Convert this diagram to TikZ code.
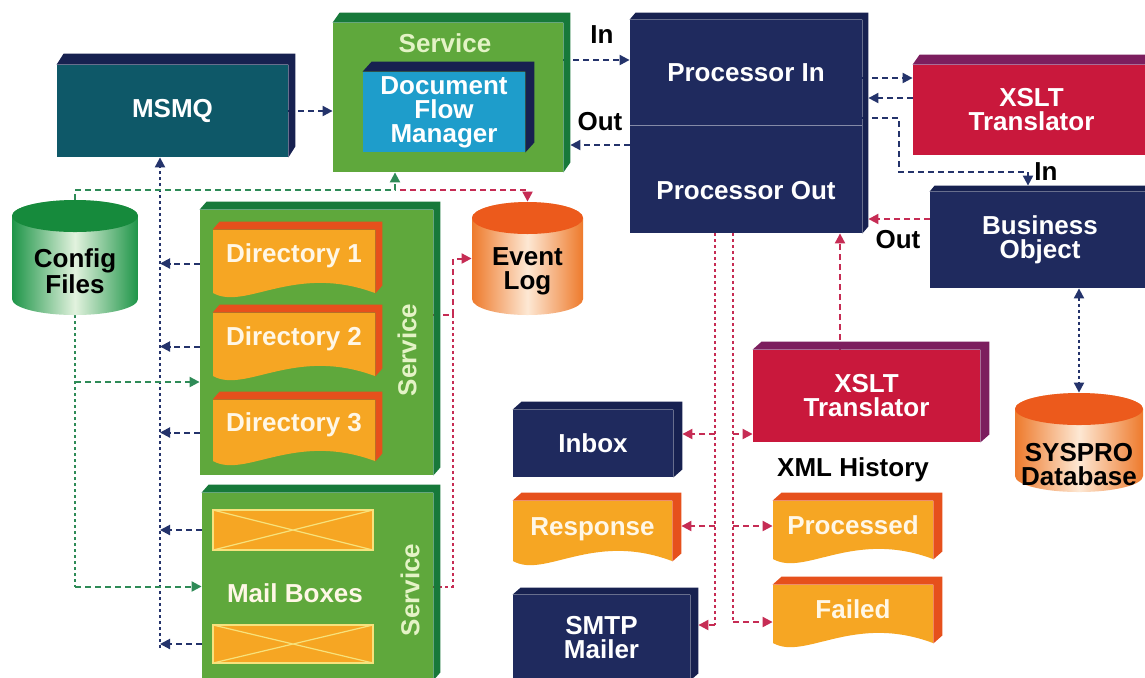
\documentclass[tikz,border=0pt]{standalone}
\usepackage{fontspec}
\setmainfont{Liberation Sans}
\usetikzlibrary{arrows.meta,calc,backgrounds}

\definecolor{navy}{HTML}{1F2A5E}
\definecolor{navyedge}{HTML}{172150}
\definecolor{mqteal}{HTML}{0E5868}
\definecolor{dfmblue}{HTML}{1E9DCB}
\definecolor{svcgreen}{HTML}{5FA83C}
\definecolor{svcdark}{HTML}{17793A}
\definecolor{docorange}{HTML}{F6A623}
\definecolor{docedge}{HTML}{E6501C}
\definecolor{xsltred}{HTML}{C9183C}
\definecolor{xsltedge}{HTML}{7C1E5E}
\definecolor{svctext}{HTML}{E4F3C6}
\definecolor{doctext}{HTML}{FFF7E6}
\definecolor{mbline}{HTML}{F7E27C}
\definecolor{linknavy}{HTML}{24336B}
\definecolor{linkred}{HTML}{C62C54}
\definecolor{linkgreen}{HTML}{2E8B57}
\definecolor{cylgreen}{HTML}{1E9548}
\definecolor{cylgreentop}{HTML}{168A3C}
\definecolor{cylgreenmid}{HTML}{E2F2DE}
\definecolor{cylorange}{HTML}{EE7A2C}
\definecolor{cylorangetop}{HTML}{EC5A1C}
\definecolor{cylorangemid}{HTML}{FDE8D4}

\tikzset{
  every node/.style={font=\bfseries\fontsize{13}{12}\selectfont, align=center, inner sep=0pt, text=white},
  wh/.style 2 args={minimum width=#1*0.5pt, minimum height=#2*0.5pt},
  block/.style={fill=#1},
  tag/.style={text=black},
  doc/.style={text=doctext, path picture={
    \fill[docorange] (path picture bounding box.north west) -- (path picture bounding box.north east)
      -- ($(path picture bounding box.south east)+(0pt,2pt)$)
      .. controls ($(path picture bounding box.south west)!0.5!(path picture bounding box.south east)+(0pt,17pt)$)
      and ($(path picture bounding box.south west)!0.2!(path picture bounding box.south east)+(0pt,-7pt)$)
      .. ($(path picture bounding box.south west)+(0pt,2pt)$) -- cycle;}},
  mailbox/.style={fill=docorange, draw=mbline, line width=0.6pt, path picture={
    \draw[mbline, line width=0.6pt] (path picture bounding box.north west) -- (path picture bounding box.south east)
      (path picture bounding box.south west) -- (path picture bounding box.north east);}},
  cyl/.style n args={5}{minimum width=#1*0.5pt, minimum height=#2*0.5pt, path picture={
    \shade[left color=#3, right color=#3, middle color=#5]
      ([yshift=-8pt]path picture bounding box.north west) -- ([yshift=8pt]path picture bounding box.south west)
      arc[start angle=180, end angle=360, x radius=#1*0.25pt, y radius=8pt]
      -- ([yshift=-8pt]path picture bounding box.north east)
      arc[start angle=0, end angle=180, x radius=#1*0.25pt, y radius=8pt] -- cycle;
    \fill[#4] ([yshift=-8pt]path picture bounding box.north) ellipse[x radius=#1*0.25pt, y radius=8pt];}},
  conn/.style={line width=1pt, dash pattern=on 3pt off 2pt, -{Triangle[length=5pt,width=5pt]}},
  navyc/.style={conn, draw=linknavy},
  redc/.style={conn, draw=linkred},
  greenc/.style={conn, draw=linkgreen},
  busline/.style={line width=1pt, dash pattern=on 1.5pt off 1.5pt},
}

\begin{document}
\begin{tikzpicture}[x=0.5pt,y=-0.5pt]
\useasboundingbox (0,0) rectangle (1145,677);

% top row
\node[block=mqteal, wh={231}{92}] (msmq) at (172.5,111) {MSMQ};
\node[block=svcgreen, wh={230}{149}] (svc) at (448,97.5) {};
\node[text=svctext] (svclbl) at (445,43) {Service};
\node[block=dfmblue, wh={162}{80}] (dfm) at (444,112) {Document\\Flow\\Manager};
\node[block=navy, wh={232}{105}] (procin) at (746,72.5) {Processor In};
\node[block=navy, wh={232}{108}, text height=21pt] (procout) at (746,179) {Processor Out};
\node[block=xsltred, wh={237}{90}] (xslta) at (1031.5,110) {XSLT\\Translator};
\node[block=navy, wh={220}{96}] (biz) at (1040,240) {Business\\Object};

% left services
\node[cyl={126}{115}{cylgreen}{cylgreentop}{cylgreenmid}, label={[tag,yshift=-7pt]center:Config\\Files}] (cfg) at (75,257.5) {};
\node[block=svcgreen, wh={233}{265}] (dirsvc) at (316.5,342.5) {};
\node[text=svctext, rotate=90] (dirsvclbl) at (407,350) {Service};
\node[doc, wh={162}{67}, text depth=10.5pt] (dir1) at (294,263.5) {Directory 1};
\node[doc, wh={162}{67}, text depth=10.5pt] (dir2) at (294,346.5) {Directory 2};
\node[doc, wh={162}{65}, text depth=10.5pt] (dir3) at (294,432.5) {Directory 3};
\node[block=svcgreen, wh={231}{187}] (mailsvc) at (317.5,586.5) {};
\node[text=svctext, rotate=90] (mailsvclbl) at (410,590) {Service};
\node[mailbox, wh={160}{40}] (mb1) at (293,530) {};
\node[mailbox, wh={160}{38}] (mb2) at (293,644) {};
\node[text=doctext] (mailtxt) at (295,593) {Mail Boxes};
\node[cyl={111}{113}{cylorange}{cylorangetop}{cylorangemid}, label={[tag,yshift=-6.5pt]center:Event\\Log}] (evlog) at (527.5,258.5) {};

% output side
\node[block=xsltred, wh={227}{92}] (xsltb) at (866.5,396) {XSLT\\Translator};
\node[block=navy, wh={160}{67}] (inbox) at (593,443.5) {Inbox};
\node[doc, wh={159}{64}, text depth=6.5pt] (response) at (592.5,533) {Response};
\node[block=navy, wh={177}{85}] (smtp) at (601.5,637.5) {SMTP\\Mailer};
\node[tag] (xmlhist) at (853,470) {XML History};
\node[doc, wh={160}{62}, text depth=6.5pt] (processed) at (853,532) {Processed};
\node[doc, wh={160}{62}, text depth=6.5pt] (failed) at (853,616) {Failed};
\node[cyl={128}{99}{cylorange}{cylorangetop}{cylorangemid}, label={[tag,yshift=-11.25pt]center:SYSPRO\\Database}] (syspro) at (1079,442.5) {};

\node[tag] (inlbl) at (602,35) {In};
\node[tag] (outlbl) at (600,122) {Out};
\node[tag] (bizinlbl) at (1046,172) {In};
\node[tag] (bizoutlbl) at (898,240) {Out};

% 3d edges
\foreach \na/\nb/\col/\dx/\dy/\rise in {msmq/msmq/navyedge/7/11/0, svc/svc/svcdark/7/10/0, dfm/dfm/navyedge/9/10/0,
    procin/procout/navyedge/6/7/0, xslta/xslta/xsltedge/7/10/0, biz/biz/navyedge/5/6/0, xsltb/xsltb/xsltedge/9/8/0,
    inbox/inbox/navyedge/9/8/0, smtp/smtp/navyedge/8/7/0, dirsvc/dirsvc/svcdark/7/8/0, mailsvc/mailsvc/svcdark/7/8/0,
    dir1/dir1/docedge/7/8/4, dir2/dir2/docedge/7/8/4, dir3/dir3/docedge/7/8/4,
    response/response/docedge/9/8/4, processed/processed/docedge/9/8/4, failed/failed/docedge/9/8/4}
  \fill[\col] (\na.north west) -- ++(\dx,-\dy) -| ($(\nb.south east)+(\dx,-\dy-\rise)$)
    -- ($(\nb.south east)+(0,-\rise)$) -- (\na.north east) -- cycle;
\draw[navy!55!white, line width=0.7pt] (procin.south west) -- (procin.south east);

\begin{scope}[on background layer]
\fill[white] (0,0) rectangle (1145,677);
\draw[navyc] (msmq.east) -- (msmq.east -| svc.west);
\draw[navyc] (svc.east |- 0,60) -- (procin.west |- 0,60);
\draw[navyc] (procout.west |- 0,145) -- ($(svc.east |- 0,145)+(7,0)$);
\draw[navyc] (procin.east |- 0,78) -- (xslta.west |- 0,78);
\draw[navyc] (xslta.west |- 0,98) -- ($(procin.east |- 0,98)+(6,0)$);
\coordinate (bend) at (899,172);
\draw[navyc] (procin.east |- 0,118) -| (bend) -| ([xshift=-6pt,yshift=3pt]biz.north);
\draw[redc] (biz.west |- 0,219) -- ($(procout.east |- 0,219)+(6,0)$);
\draw[navyc, {Triangle[length=5pt,width=5pt]}-{Triangle[length=5pt,width=5pt]}, dash pattern=on 1.5pt off 1.5pt]
  (syspro.north |- biz.south) -- (syspro.north);

% msmq bus
\coordinate (bus) at (160,648);
\draw[busline, draw=linknavy, -{Triangle[length=5pt,width=5pt]}] (bus) -- (msmq.south -| bus);
\foreach \s/\n in {dirsvc/dir1,dirsvc/dir2,dirsvc/dir3,mailsvc/mb1,mailsvc/mb2}
  \draw[navyc] (\s.west |- \n) -- (bus |- \n);

% config files
\draw[greenc] (cfg.north) -- ++(0,-10) -| ([xshift=-26.5pt]svc.south);
\draw[busline, draw=linkgreen] (cfg.south) -- (cfg.south |- mailsvc.west);
\draw[greenc] (cfg.south |- 0,382) -- (dirsvc.west |- 0,382);
\draw[greenc] (cfg.south |- mailsvc.west) -- (mailsvc.west);

% event log
\coordinate (logtap) at (400,190);
\draw[redc] (logtap) -| (evlog.north);
\coordinate (redbus) at (453,315);
\draw[redc] (dirsvc.east |- redbus) -| (redbus |- evlog.west) -- (evlog.west);
\draw[busline, draw=linkred] (mailsvc.east) -| (redbus);

% processor out
\coordinate (lbus) at (715,625);
\coordinate (rbus) at (733,622);
\draw[busline, draw=linkred] (procout.south -| lbus) -- (lbus);
\draw[busline, draw=linkred] (procout.south -| rbus) -- (rbus);
\foreach \y/\n/\s in {434/inbox/9,526/response/9,625/smtp/8}
  \draw[redc] (lbus |- 0,\y) -- ($(\n.east |- 0,\y)+(\s,0)$);
\foreach \y/\n in {434/xsltb,526/processed,622/failed}
  \draw[redc] (rbus |- 0,\y) -- (\n.west |- 0,\y);
\draw[redc] ([xshift=-13.25pt]xsltb.north) -- ([xshift=-13.25pt]xsltb.north |- procout.south);
\end{scope}
\end{tikzpicture}
\end{document}
